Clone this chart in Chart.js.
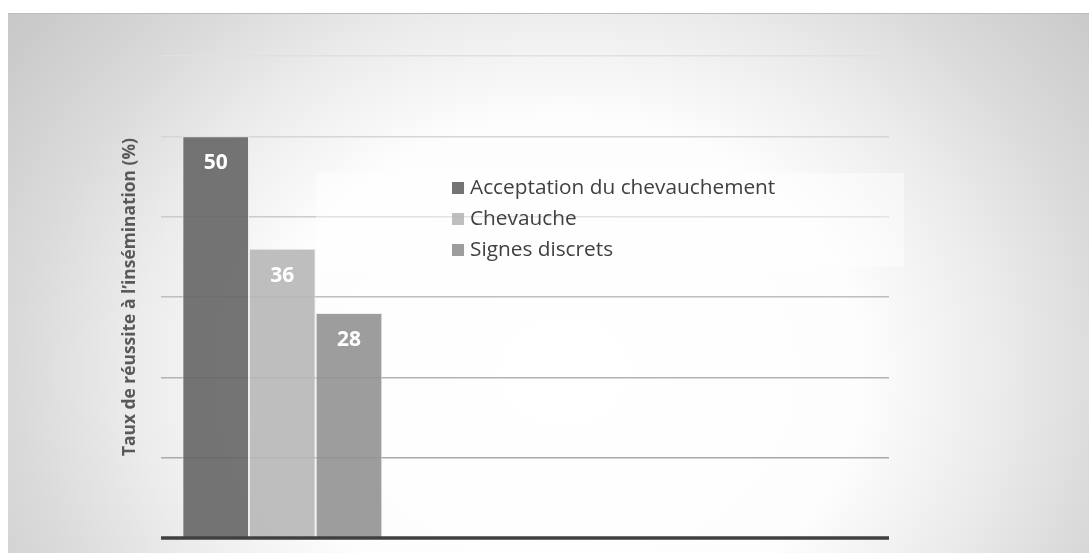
<!DOCTYPE html>
<html lang="fr">
<head>
<meta charset="utf-8">
<title>Taux de réussite à l’insémination</title>
<script src="https://cdn.jsdelivr.net/npm/chart.js@4.4.1/dist/chart.umd.min.js"></script>
<style>
  html, body { margin: 0; padding: 0; background: #ffffff; }
  #wrap { width: 1089px; height: 553px; position: relative; }
</style>
</head>
<body>
<div id="wrap"><canvas id="chart" width="1089" height="553"></canvas></div>
<script>
// Catégories de l'axe horizontal (seule la première porte des valeurs)
const categories = ['', '', ''];
// Noms des séries
const seriesNames = ['Acceptation du chevauchement', 'Chevauche', 'Signes discrets'];
// Valeurs (%) par série
const acceptationValues = [50, null, null];
const chevaucheValues = [36, null, null];
const signesValues = [28, null, null];
// Graduations de l'axe vertical
const yMin = 0;
const yMax = 60;
const yStep = 10;
const axisTitle = 'Taux de réussite à l’insémination (%)';

const seriesColors = ['rgba(101,101,101,0.9)', 'rgba(183,183,183,0.9)', 'rgba(146,146,146,0.9)'];
const gridShades = { 10: '#a9a9a9', 20: '#b2b2b2', 30: '#bebebe', 40: '#cbcbcb', 50: '#d6d6d6', 60: '#e0e0e0' };

// Fond : panneau gris avec halo clair
const backgroundPlugin = {
  id: 'panelBackground',
  beforeDraw(chart) {
    const ctx = chart.ctx;
    ctx.save();
    ctx.fillStyle = '#ffffff';
    ctx.fillRect(0, 0, chart.width, chart.height);
    const px = 8, py = 13, pw = chart.width - px, ph = chart.height - py;
    ctx.beginPath();
    ctx.rect(px, py, pw, ph);
    ctx.clip();
    ctx.translate(565, 370);
    ctx.scale(1.3, 1.1);
    const g = ctx.createRadialGradient(0, 0, 0, 0, 0, 600);
    g.addColorStop(0, '#ffffff');
    g.addColorStop(0.38, '#fdfdfd');
    g.addColorStop(0.55, '#ececec');
    g.addColorStop(0.7, '#dadada');
    g.addColorStop(0.85, '#cbcbcb');
    g.addColorStop(1, '#c2c2c2');
    ctx.fillStyle = g;
    ctx.fillRect(-1000, -1000, 2000, 2000);
    ctx.restore();
    ctx.save();
    ctx.strokeStyle = '#bdbdbd';
    ctx.lineWidth = 1;
    ctx.beginPath();
    ctx.moveTo(px, py + 0.5);
    ctx.lineTo(chart.width, py + 0.5);
    ctx.stroke();
    ctx.restore();
  }
};

// Axe horizontal, étiquettes de valeur, légende et titre de l'axe vertical
const overlayPlugin = {
  id: 'overlay',
  afterDatasetsDraw(chart) {
    const ctx = chart.ctx;
    const area = chart.chartArea;
    const yScale = chart.scales.y;
    ctx.save();

    // Ligne de base
    const y0 = yScale.getPixelForValue(yMin);
    ctx.strokeStyle = '#404040';
    ctx.lineWidth = 3.5;
    ctx.beginPath();
    ctx.moveTo(area.left, y0);
    ctx.lineTo(area.right, y0);
    ctx.stroke();

    // Valeurs dans les barres
    ctx.fillStyle = '#ffffff';
    ctx.font = 'bold 21px "Open Sans", sans-serif';
    ctx.textAlign = 'center';
    ctx.textBaseline = 'middle';
    chart.data.datasets.forEach((ds, i) => {
      const meta = chart.getDatasetMeta(i);
      meta.data.forEach((bar, j) => {
        const v = ds.data[j];
        if (v === null || v === undefined) return;
        ctx.fillText(String(v), bar.x, bar.y + 27);
      });
    });

    // Légende
    ctx.fillStyle = 'rgba(255,255,255,0.45)';
    ctx.fillRect(316, 173, 588, 94);
    ctx.font = '20.8px "Open Sans", sans-serif';
    ctx.textAlign = 'left';
    ctx.textBaseline = 'middle';
    chart.data.datasets.forEach((ds, i) => {
      const cy = 188 + i * 31;
      ctx.fillStyle = ds.backgroundColor;
      ctx.fillRect(452, cy - 6, 12, 12);
      ctx.fillStyle = '#404040';
      ctx.fillText(ds.label, 470, cy);
    });

    // Titre de l'axe vertical
    ctx.translate(130, (area.top + area.bottom) / 2);
    ctx.rotate(-Math.PI / 2);
    ctx.fillStyle = '#595959';
    ctx.font = 'bold 17.4px "Open Sans", sans-serif';
    ctx.textAlign = 'center';
    ctx.textBaseline = 'middle';
    ctx.fillText(axisTitle, 0, 0);
    ctx.restore();
  }
};

const datasetValues = [acceptationValues, chevaucheValues, signesValues];

new Chart(document.getElementById('chart'), {
  type: 'bar',
  data: {
    labels: categories,
    datasets: seriesNames.map((name, i) => ({
      label: name,
      data: datasetValues[i],
      backgroundColor: seriesColors[i],
      borderColor: 'rgba(235,235,235,0.85)',
      borderWidth: 1,
      categoryPercentage: 0.824,
      barPercentage: 1
    }))
  },
  options: {
    responsive: false,
    animation: false,
    events: [],
    layout: { padding: { left: 161, right: 200, top: 56, bottom: 15 } },
    plugins: { legend: { display: false }, tooltip: { enabled: false }, title: { display: false } },
    scales: {
      x: {
        afterFit(axis) { axis.height = 0; },
        grid: { display: false },
        border: { display: false },
        ticks: { display: false }
      },
      y: {
        min: yMin,
        max: yMax,
        afterFit(axis) { axis.width = 0; },
        ticks: { display: false, stepSize: yStep },
        border: { display: false },
        grid: {
          drawTicks: false,
          lineWidth: 1.5,
          color: (c) => (c.tick && gridShades[c.tick.value]) || 'rgba(0,0,0,0)'
        }
      }
    }
  },
  plugins: [backgroundPlugin, overlayPlugin]
});
</script>
</body>
</html>
